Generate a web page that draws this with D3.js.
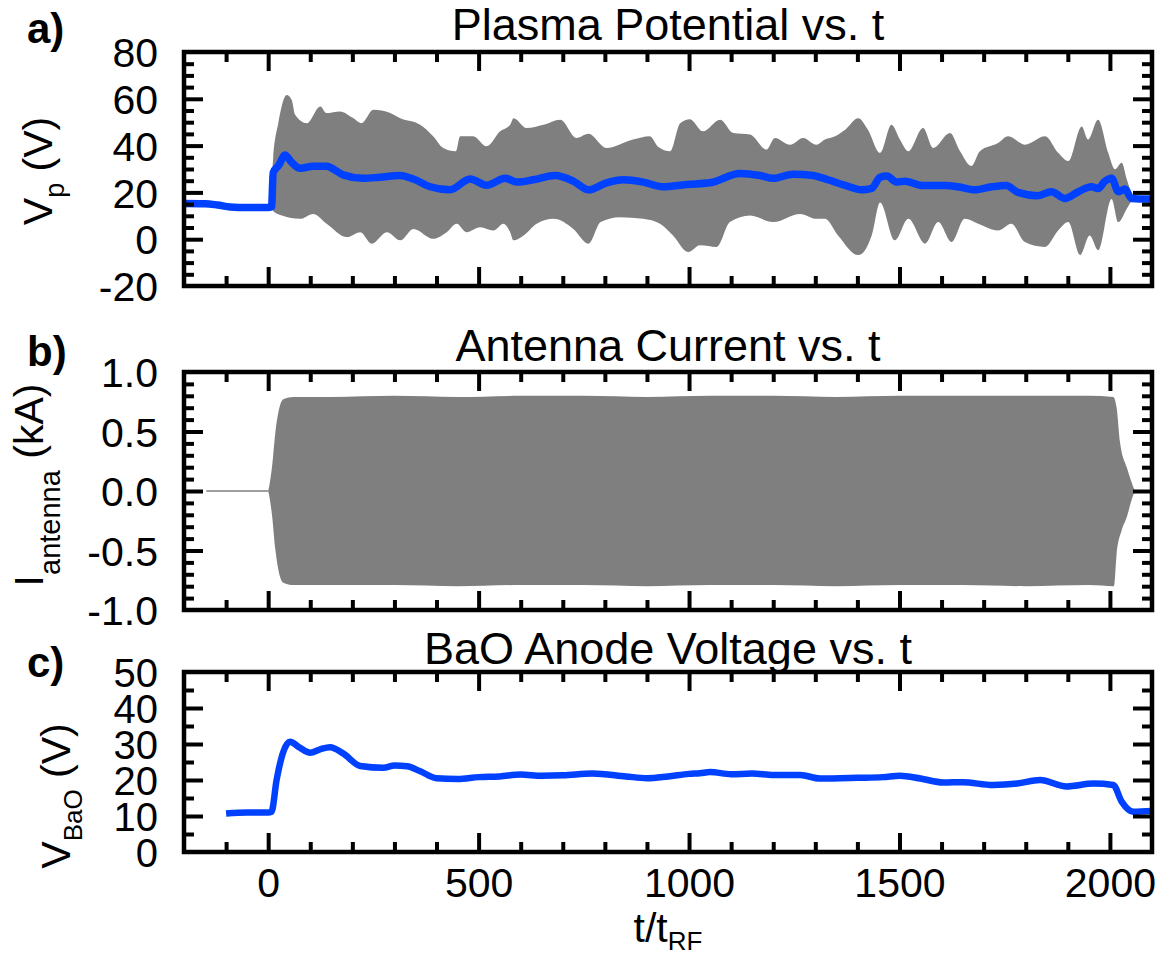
<!DOCTYPE html>
<html>
<head>
<meta charset="utf-8">
<script src="https://cdn.jsdelivr.net/npm/d3@7"></script>
<style>
  html, body { margin: 0; padding: 0; background: #fff; }
  svg { display: block; }
  text { font-family: "Liberation Sans", Arial, Helvetica, sans-serif; fill: #000; }
</style>
</head>
<body>
<svg id="chart" width="1166" height="958"></svg>
<script>
// ---- time axis (t / t_RF) ----
const tDomain = [-200, 2100];
const tMajorTicks = [0, 500, 1000, 1500, 2000];
const tTickLabels = ["0", "500", "1000", "1500", "2000"];

// ---- a) plasma potential: running mean and fluctuation envelope ----
const vpT = [-200, -150, -120, -90, -50, 0, 8, 12, 25, 40, 55, 76, 107, 138, 178, 226, 266, 313, 345, 385, 432, 480, 519, 563, 591, 630, 682, 725, 761, 804, 844, 891, 938, 994, 1050, 1121, 1169, 1200, 1247, 1295, 1330, 1371, 1410, 1434, 1454, 1470, 1493, 1513, 1553, 1608, 1639, 1679, 1719, 1754, 1781, 1829, 1861, 1893, 1925, 1956, 1972, 1988, 2004, 2020, 2036, 2051, 2070, 2100];
const vpMean = [15.3, 15.2, 14.6, 13.8, 13.5, 13.5, 13.8, 28.5, 31.5, 36.0, 33.0, 30.3, 31.2, 31.2, 27.5, 26.0, 26.5, 27.2, 25.7, 22.4, 21.1, 25.7, 23.1, 26.1, 24.4, 25.4, 27.2, 24.8, 21.1, 24.1, 25.4, 24.4, 22.4, 23.4, 24.1, 28.1, 27.2, 26.0, 27.8, 27.2, 25.4, 23.0, 21.1, 21.7, 26.5, 27.0, 24.4, 24.8, 23.0, 23.0, 22.4, 21.1, 22.4, 23.0, 20.0, 18.6, 20.3, 17.4, 20.3, 22.4, 21.7, 24.8, 26.1, 20.3, 21.4, 17.4, 17.2, 17.2];

const vpUpT = [5, 12, 24, 44, 56, 64, 92, 124, 138, 171, 200, 222, 250, 290, 314, 361, 392, 416, 446, 456, 487, 519, 551, 575, 583, 614, 654, 694, 733, 761, 804, 867, 907, 927, 955, 979, 1002, 1033, 1074, 1105, 1145, 1184, 1204, 1240, 1271, 1303, 1323, 1347, 1371, 1402, 1425, 1454, 1481, 1501, 1521, 1556, 1580, 1620, 1644, 1671, 1691, 1734, 1758, 1798, 1846, 1877, 1901, 1933, 1948, 1972, 1996, 2012, 2028, 2040, 2055];
const vpUp = [14, 35, 49.6, 61.6, 59.5, 53.2, 49.6, 56.7, 53.9, 54.6, 52, 49.6, 55.3, 53.9, 51.7, 48.9, 44, 39, 37.6, 44, 44, 39.7, 46.1, 48.9, 51.7, 47.5, 48.9, 51.1, 43.3, 45.1, 39, 42.6, 44, 39.4, 37.6, 49.6, 51.3, 46.1, 51.1, 45.4, 44.7, 38.3, 43.3, 40.4, 43.3, 40.4, 42.6, 44, 46.8, 51.7, 46.8, 36.9, 48.9, 42.6, 37.6, 47.5, 39, 45.4, 37.6, 31.3, 37.6, 41.1, 44, 40.4, 44, 36.9, 33.4, 48.2, 42.6, 51.1, 36.9, 29.9, 32.7, 25.6, 17.5];

const vpLoT = [5, 15, 33, 76, 107, 139, 187, 219, 246, 282, 314, 345, 392, 424, 448, 471, 504, 535, 559, 575, 583, 607, 638, 678, 725, 761, 790, 836, 891, 931, 962, 998, 1026, 1066, 1097, 1145, 1200, 1264, 1303, 1323, 1354, 1402, 1434, 1454, 1489, 1521, 1561, 1592, 1624, 1655, 1687, 1734, 1766, 1798, 1846, 1877, 1901, 1929, 1952, 1972, 2004, 2020, 2040, 2055];
const vpLo = [14, 11.5, 10.1, 8.7, 10.8, 6.6, 0.9, 3, -1.9, 3, -0.5, 4.4, 0.2, 3, 6.6, 3, 5.1, 3.7, 6.6, 3, -0.5, 1.6, 6.6, 8.7, 4.4, -1.9, 7.3, 9.4, 8.7, 6.6, 1.6, -5.5, -2.6, -3.3, 7.3, 10.1, 7.3, 10.8, 8.7, 8.7, 1.6, -6.8, 1.6, 15.7, -0.5, 8.7, -1.9, 7.3, -1.2, 8.7, 6.6, 3.7, 6.6, -1.2, -3.3, 3.7, 7.3, -6.8, 1.6, -4.7, 17.2, 7.3, 13, 17.5];

const vpTicks = [80, 60, 40, 20, 0, -20];
const vpTickLabels = ["80", "60", "40", "20", "0", "-20"];

// ---- b) antenna current envelope (kA) ----
const iFlatT = [-147, 0];
const iFlat = [0, 0];
const iUpT = [0, 3, 9, 17, 36, 60, 150, 300, 450, 600, 750, 900, 1050, 1200, 1350, 1500, 1650, 1800, 1950, 2008, 2016, 2024, 2040, 2059];
const iUp = [0, 0.05, 0.2, 0.49, 0.77, 0.79, 0.79, 0.80, 0.79, 0.80, 0.80, 0.79, 0.80, 0.80, 0.79, 0.80, 0.80, 0.80, 0.80, 0.79, 0.70, 0.41, 0.2, 0.0];
const iLoT = [0, 3, 9, 17, 36, 60, 150, 300, 450, 600, 750, 900, 1050, 1200, 1350, 1500, 1650, 1800, 1950, 2010, 2016, 2028, 2040, 2052, 2059];
const iLo = [0, -0.05, -0.2, -0.49, -0.77, -0.79, -0.79, -0.79, -0.80, -0.79, -0.79, -0.80, -0.79, -0.79, -0.80, -0.79, -0.79, -0.80, -0.79, -0.80, -0.53, -0.33, -0.22, -0.07, 0.0];
const iTicks = [1.0, 0.5, 0.0, -0.5, -1.0];
const iTickLabels = ["1.0", "0.5", "0.0", "-0.5", "-1.0"];

// ---- c) BaO anode voltage ----
const baoT = [-100, -50, 0, 8, 20, 35, 52, 75, 100, 125, 147, 178, 219, 274, 300, 330, 360, 400, 450, 500, 550, 600, 650, 700, 770, 850, 900, 950, 1000, 1026, 1050, 1100, 1150, 1200, 1264, 1311, 1400, 1461, 1501, 1550, 1604, 1650, 1722, 1780, 1834, 1897, 1961, 2008, 2028, 2055, 2100];
const bao = [10.7, 11.0, 11.0, 11.2, 20, 27.5, 30.6, 29, 27.6, 28.6, 29.1, 27.4, 23.9, 23.4, 24, 23.8, 22.5, 20.5, 20.3, 20.8, 21.0, 21.5, 21.2, 21.3, 21.8, 21.0, 20.5, 21.0, 21.7, 21.9, 22.2, 21.6, 21.8, 21.4, 21.4, 20.4, 20.6, 20.8, 21.2, 20.4, 19.3, 19.4, 18.6, 19.0, 20.0, 18.2, 19.0, 18.6, 14.0, 11.2, 11.4];
const baoTicks = [50, 40, 30, 20, 10, 0];
const baoTickLabels = ["50", "40", "30", "20", "10", "0"];

// ---- layout ----
const GRAY = "#7f7f7f";
const BLUE = "#0040ff";
const left = 184, right = 1152;
const svg = d3.select("#chart");
const x = d3.scaleLinear().domain(tDomain).range([left, right]);

const panels = [
  { id: "a", top: 52, bottom: 286, domain: [-20, 80], major: 20, minor: 5, ticks: vpTicks, labels: vpTickLabels, fs: 41 },
  { id: "b", top: 372, bottom: 610, domain: [-1, 1], major: 0.5, minor: 0.1, ticks: iTicks, labels: iTickLabels, fs: 41 },
  { id: "c", top: 672, bottom: 852, domain: [0, 50], major: 10, minor: 5, ticks: baoTicks, labels: baoTickLabels, fs: 40 }
];
panels.forEach(p => { p.y = d3.scaleLinear().domain(p.domain).range([p.bottom, p.top]); });

const defs = svg.append("defs");
panels.forEach(p => {
  defs.append("clipPath").attr("id", "clip-" + p.id)
    .append("rect").attr("x", left).attr("y", p.top).attr("width", right - left).attr("height", p.bottom - p.top);
});

const zipPts = (ts, vs) => ts.map((t, i) => [t, vs[i]]);

// envelope polygon: upper edge forward, lower edge backward
function envelopePath(p, upT, up, loT, lo, curve) {
  const line = d3.line().x(d => x(d[0])).y(d => p.y(d[1])).curve(curve);
  const upper = line(zipPts(upT, up));
  const lower = line(zipPts(loT, lo).reverse());
  return upper + "L" + lower.slice(1) + "Z";
}

// a) data
const pa = panels[0];
const ga = svg.append("g").attr("clip-path", "url(#clip-a)");
ga.append("path").attr("d", envelopePath(pa, vpUpT, vpUp, vpLoT, vpLo, d3.curveMonotoneX)).attr("fill", GRAY);
ga.append("path")
  .attr("d", d3.line().x(d => x(d[0])).y(d => pa.y(d[1])).curve(d3.curveMonotoneX)(zipPts(vpT, vpMean)))
  .attr("fill", "none").attr("stroke", BLUE).attr("stroke-width", 7.5).attr("stroke-linejoin", "round");

// b) data
const pb = panels[1];
const gb = svg.append("g").attr("clip-path", "url(#clip-b)");
gb.append("path")
  .attr("d", d3.line().x(d => x(d[0])).y(d => pb.y(d[1]))(zipPts(iFlatT, iFlat)))
  .attr("fill", "none").attr("stroke", GRAY).attr("stroke-width", 1.6);
gb.append("path").attr("d", envelopePath(pb, iUpT, iUp, iLoT, iLo, d3.curveMonotoneX)).attr("fill", GRAY);

// c) data
const pc = panels[2];
const gc = svg.append("g").attr("clip-path", "url(#clip-c)");
gc.append("path")
  .attr("d", d3.line().x(d => x(d[0])).y(d => pc.y(d[1])).curve(d3.curveMonotoneX)(zipPts(baoT, bao)))
  .attr("fill", "none").attr("stroke", BLUE).attr("stroke-width", 6.5).attr("stroke-linejoin", "round");

// frames and inward ticks on all four sides
const xMinor = d3.range(-100, 2100, 100).filter(v => v % 500 !== 0);
const TICK_MAJ = 19, TICK_MIN = 10;

function tickAxis(g, axis, values, size) {
  g.call(axis.tickValues(values).tickSize(-size).tickFormat(""));
  g.select(".domain").remove();
  g.selectAll(".tick line").attr("stroke", "#000").attr("stroke-width", 4);
}

panels.forEach(p => {
  const yMinor = d3.range(p.domain[0], p.domain[1] + 1e-9, p.minor)
    .map(v => +v.toFixed(3))
    .filter(v => v > p.domain[0] && v < p.domain[1] && Math.abs(v / p.major - Math.round(v / p.major)) > 1e-6);
  const yMajor = p.ticks.filter(v => v > p.domain[0] && v < p.domain[1]);

  const gAx = svg.append("g");
  const xSides = [[() => d3.axisBottom(x), p.bottom], [() => d3.axisTop(x), p.top]];
  xSides.forEach(([mk, pos]) => {
    tickAxis(gAx.append("g").attr("transform", "translate(0," + pos + ")"), mk(), xMinor, TICK_MIN);
    tickAxis(gAx.append("g").attr("transform", "translate(0," + pos + ")"), mk(), tMajorTicks, TICK_MAJ);
  });
  const ySides = [[() => d3.axisLeft(p.y), left], [() => d3.axisRight(p.y), right]];
  ySides.forEach(([mk, pos]) => {
    tickAxis(gAx.append("g").attr("transform", "translate(" + pos + ",0)"), mk(), yMinor, TICK_MIN);
    tickAxis(gAx.append("g").attr("transform", "translate(" + pos + ",0)"), mk(), yMajor, TICK_MAJ);
  });

  svg.append("rect")
    .attr("x", left).attr("y", p.top).attr("width", right - left).attr("height", p.bottom - p.top)
    .attr("fill", "none").attr("stroke", "#000").attr("stroke-width", 4.5);

  // y tick labels
  const gl = svg.append("g").attr("transform", "translate(" + left + ",0)")
    .call(d3.axisLeft(p.y).tickValues(p.ticks).tickSize(0).tickPadding(26)
      .tickFormat((d, i) => p.labels[i]));
  gl.select(".domain").remove();
  gl.attr("font-family", null).attr("font-size", null);
  gl.selectAll("text").attr("font-size", p.fs).attr("dy", "0.36em");
});

// x tick labels (bottom panel only)
const gx = svg.append("g").attr("transform", "translate(0," + pc.bottom + ")")
  .call(d3.axisBottom(x).tickValues(tMajorTicks).tickSize(0).tickPadding(0)
    .tickFormat((d, i) => tTickLabels[i]));
gx.select(".domain").remove();
gx.attr("font-family", null).attr("font-size", null);
gx.selectAll("text").attr("font-size", 41).attr("dy", null).attr("y", 45);

// titles
const titles = [
  { text: "Plasma Potential vs. t", y: 40 },
  { text: "Antenna Current vs. t", y: 361 },
  { text: "BaO Anode Voltage vs. t", y: 664 }
];
svg.selectAll("text.title").data(titles).join("text").attr("class", "title")
  .attr("x", (left + right) / 2).attr("y", d => d.y)
  .attr("text-anchor", "middle").attr("font-size", 45).text(d => d.text);

// panel letters
const letters = [{ t: "a)", y: 43 }, { t: "b)", y: 366 }, { t: "c)", y: 677 }];
svg.selectAll("text.letter").data(letters).join("text").attr("class", "letter")
  .attr("x", 27).attr("y", d => d.y).attr("font-size", 42).attr("font-weight", "bold").text(d => d.t);

// y axis titles (rotated, with subscripts)
function yTitle(cx, cy, main, sub, rest, subSize, subDy) {
  const t = svg.append("text")
    .attr("transform", "translate(" + cx + "," + cy + ") rotate(-90)")
    .attr("text-anchor", "middle").attr("font-size", 41);
  t.append("tspan").text(main);
  t.append("tspan").attr("font-size", subSize).attr("dy", subDy).text(sub);
  t.append("tspan").attr("dy", -subDy).text(rest);
}
yTitle(52, 171, "V", "p", " (V)", 27, 12);
yTitle(43, 485, "I", "antenna", " (kA)", 29, 17);
yTitle(70, 796, "V", "BaO", " (V)", 26, 12);

// x axis title
const xt = svg.append("text").attr("x", (left + right) / 2).attr("y", 942)
  .attr("text-anchor", "middle").attr("font-size", 41);
xt.append("tspan").text("t/t");
xt.append("tspan").attr("font-size", 26).attr("dy", 8).text("RF");
</script>
</body>
</html>
